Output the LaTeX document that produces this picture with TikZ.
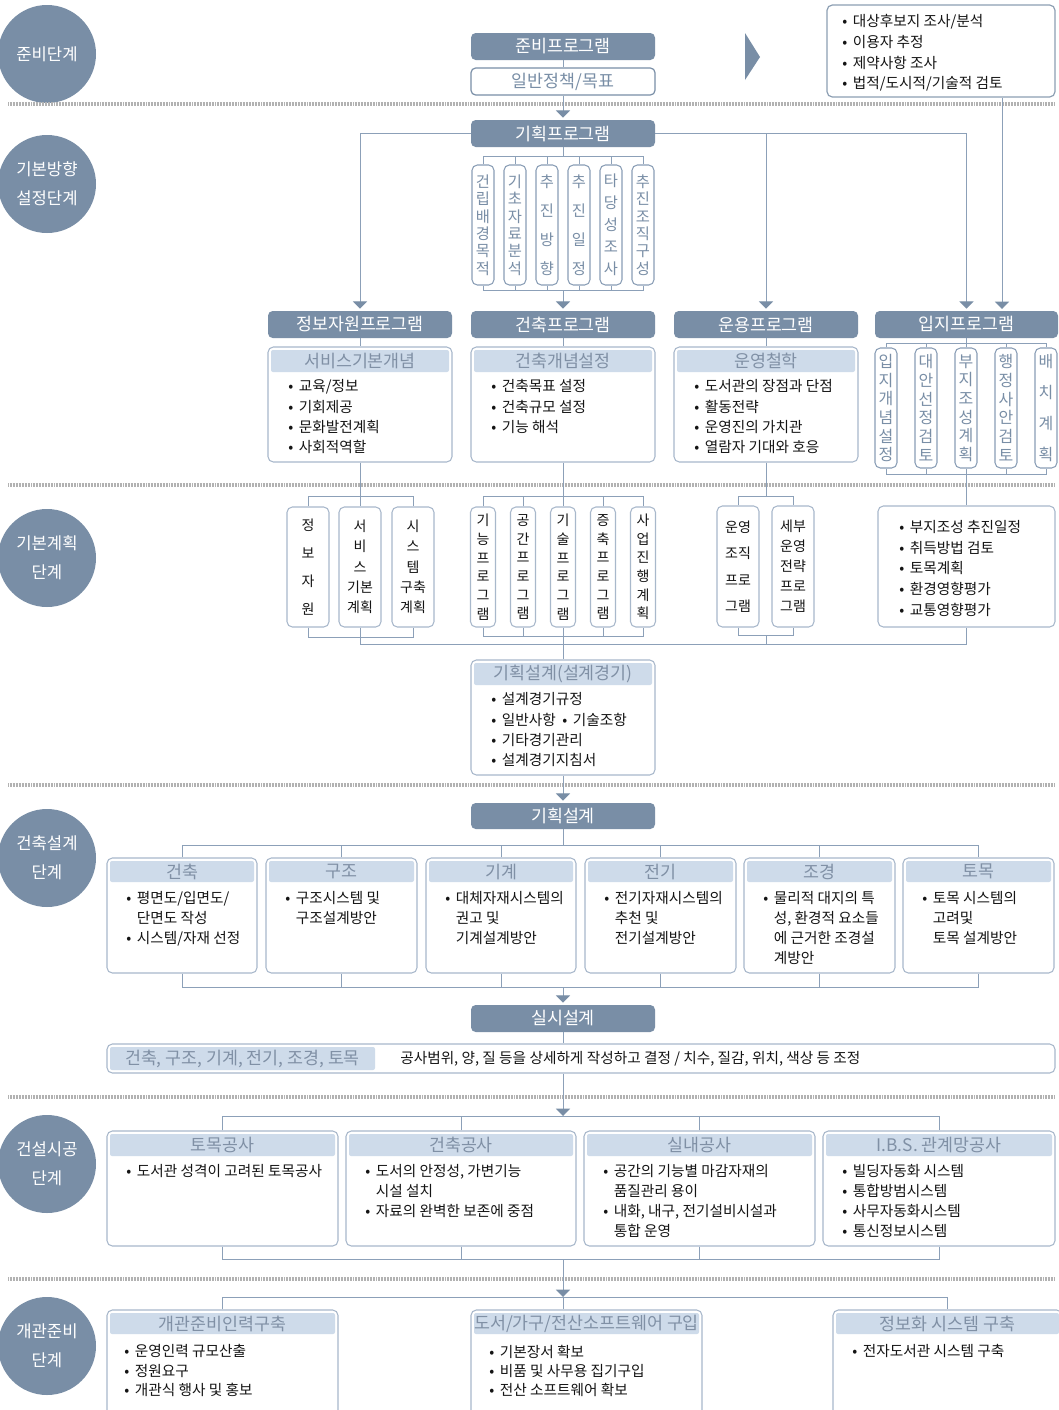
\documentclass[tikz,border=0pt]{standalone}
\usepackage{fontspec}
\setmainfont{Noto Sans CJK KR}
\usetikzlibrary{arrows.meta}
\definecolor{slate}{RGB}{121,142,166}
\definecolor{bandc}{RGB}{206,219,234}
\definecolor{bandtxt}{RGB}{128,144,165}
\definecolor{edgec}{RGB}{168,184,203}
\definecolor{tileedge}{RGB}{138,158,182}
\definecolor{linec}{RGB}{140,160,184}
\definecolor{sepc}{RGB}{178,178,178}
\definecolor{ink}{RGB}{20,20,20}
\newcommand\bl{\makebox[0.72em][l]{•}}
\newcommand\cn{\hspace*{0.72em}}
\begin{document}
\begin{tikzpicture}[x=0.75pt,y=-0.75pt,
  spanbox/.style n args={4}{at={({(#1+#3)/2},{(#2+#4)/2})}, anchor=center,
     minimum width={(#3-#1)*0.75pt}, minimum height={(#4-#2)*0.75pt}},
  hdr/.style={fill=slate, rounded corners=3.5pt, text=white, inner sep=0pt, font=\fontsize{13}{15}\selectfont},
  genbox/.style={draw=slate, line width=0.9pt, fill=white, rounded corners=3.5pt, text=slate, inner sep=0pt, font=\fontsize{13}{15}\selectfont},
  card/.style={draw=edgec, line width=0.8pt, fill=white, rounded corners=4pt, inner sep=0pt},
  band/.style={fill=bandc, rounded corners=1.5pt, text=bandtxt, inner sep=0pt, font=\fontsize{13}{15}\selectfont},
  blist/.style={anchor=north west, align=left, inner sep=0pt, text=ink, font=\fontsize{11}{#1}\selectfont},
  blist/.default=15.2pt,
  vtile/.style={draw=tileedge, line width=0.8pt, fill=white, rounded corners=4pt, inner sep=0pt, align=center, text=slate, font=\fontsize{11.5}{#1}\selectfont},
  stile/.style={draw=tileedge, line width=0.8pt, fill=white, rounded corners=4pt, inner sep=0pt, align=center, text=slate, font=\fontsize{12}{#1}\selectfont},
  ktile/.style={draw=edgec, line width=0.8pt, fill=white, rounded corners=4pt, inner sep=0pt, align=center, text=ink, font=\fontsize{10.5}{#1}\selectfont},
  stage/.style={circle, fill=slate, text=white, minimum size=73.5pt, inner sep=0pt, align=center, font=\fontsize{12.5}{21.75}\selectfont},
  conn/.style={draw=linec, line width=0.75pt},
  arr/.style={conn, -{Triangle[width=10.5pt,length=5.5pt,color=slate]}, shorten >=1.5pt},
  sep/.style={draw=sepc, line width=2.4pt, dash pattern=on 0.55pt off 0.6pt}
]
\useasboundingbox (0,0) rectangle (1058,1410);
\fill[white] (0,0) rectangle (1058,1410);

% ---------- stage circles ----------
\node[stage] (st1) at (47,54) {준비단계};
\node[stage] (st2) at (47,184) {기본방향\\설정단계};
\node[stage] (st3) at (47,558) {기본계획\\단계};
\node[stage] (st4) at (47,858) {건축설계\\단계};
\node[stage] (st5) at (47,1164) {건설시공\\단계};
\node[stage] (st6) at (47,1346) {개관준비\\단계};

% ---------- separators ----------
\foreach \yy in {104,485,785,1097,1279}
  \draw[sep] (8,\yy) -- (1055,\yy);

% ---------- preparation ----------
\node[hdr, spanbox={471}{33}{655}{60}] (hPrep) {준비프로그램};
\node[genbox, spanbox={471}{68}{655}{95}] (gGen) {일반정책/목표};
\fill[slate] (745,33) -- (760,57) -- (745,80) -- cycle;
\node[card, draw=slate!85, line width=0.9pt, spanbox={827}{5}{1055}{97}] (rBox) {};
\node[blist=15.4pt] (rTxt) at (842,14.5) {\bl 대상후보지 조사/분석\\\bl 이용자 추정\\\bl 제약사항 조사\\\bl 법적/도시적/기술적 검토};

\node[hdr, spanbox={471}{120}{655}{147}] (hPlan) {기획프로그램};
\draw[conn] (hPrep.south) -- (gGen.north);
\draw[arr] (gGen.south) -- (hPlan.north);

% planning items
\node[vtile=13.1pt, spanbox={472}{165}{494}{285}] (t1) {건\\립\\배\\경\\목\\적};
\node[vtile=13.1pt, spanbox={504}{165}{526}{285}] (t2) {기\\초\\자\\료\\분\\석};
\node[vtile=21.75pt, spanbox={536}{165}{558}{285}] (t3) {추\\진\\방\\향};
\node[vtile=21.75pt, spanbox={568}{165}{590}{285}] (t4) {추\\진\\일\\정};
\node[vtile=16.5pt, spanbox={600}{165}{622}{285}] (t5) {타\\당\\성\\조\\사};
\node[vtile=13.1pt, spanbox={632}{165}{654}{285}] (t6) {추\\진\\조\\직\\구\\성};

% program headers
\node[hdr, spanbox={268}{311}{452}{338}] (hInfo) {정보자원프로그램};
\node[hdr, spanbox={471}{311}{655}{338}] (hArch) {건축프로그램};
\node[hdr, spanbox={674}{311}{858}{338}] (hOper) {운용프로그램};
\node[hdr, spanbox={875}{311}{1058}{338}] (hSite) {입지프로그램};
\coordinate (siteIn) at (1002,311);

\draw[arr] (hPlan.west) -| (hInfo.north);
\draw[arr] (hPlan.east) -| (hSite.north);
\draw[arr] (hPlan.east -| hOper.north) -- (hOper.north);
\draw[arr] (rBox.south -| siteIn) -- (siteIn);

\coordinate (pTop) at (563,156);
\coordinate (pBot) at (563,290);
\draw[conn] (hPlan.south) -- (pTop);
\draw[conn] (t1.north) -- (t1.north |- pTop) -- (t6.north |- pTop) -- (t6.north);
\draw[conn] (t1.south) -- (t1.south |- pBot) -- (t6.south |- pBot) -- (t6.south);
\foreach \k in {2,...,5} {
  \draw[conn] (t\k.north) -- (t\k.north |- pTop);
  \draw[conn] (t\k.south) -- (t\k.south |- pBot);
}
\draw[arr] (pBot) -- (hArch.north);

% concept boxes
\node[card, spanbox={268}{347}{452}{462}] (bInfo) {};
\node[band, spanbox={271}{350}{449}{372}] (bInfoB) {서비스기본개념};
\node[blist] (bInfoT) at (288,379.5) {\bl 교육/정보\\\bl 기회제공\\\bl 문화발전계획\\\bl 사회적역할};
\node[card, spanbox={471}{347}{655}{462}] (bArch) {};
\node[band, spanbox={474}{350}{652}{372}] (bArchB) {건축개념설정};
\node[blist] (bArchT) at (491,379.5) {\bl 건축목표 설정\\\bl 건축규모 설정\\\bl 기능 해석};
\node[card, spanbox={674}{347}{858}{462}] (bOper) {};
\node[band, spanbox={677}{350}{855}{372}] (bOperB) {운영철학};
\node[blist] (bOperT) at (694,379.5) {\bl 도서관의 장점과 단점\\\bl 활동전략\\\bl 운영진의 가치관\\\bl 열람자 기대와 호응};
\draw[conn] (hInfo.south) -- (bInfo.north);
\draw[conn] (hArch.south) -- (bArch.north);
\draw[conn] (hOper.south) -- (bOper.north);

% site items
\node[stile=14pt, spanbox={875}{348}{897}{468}] (s1) {입\\지\\개\\념\\설\\정};
\node[stile=14pt, spanbox={915}{348}{937}{468}] (s2) {대\\안\\선\\정\\검\\토};
\node[stile=14pt, spanbox={955}{348}{977}{468}] (s3) {부\\지\\조\\성\\계\\획};
\node[stile=14pt, spanbox={995}{348}{1017}{468}] (s4) {행\\정\\사\\안\\검\\토};
\node[stile=23.25pt, spanbox={1035}{348}{1057}{468}] (s5) {배\\치\\계\\획};
\coordinate (sTop) at (967,343);
\coordinate (sBot) at (967,474);
\draw[conn] (hSite.south) -- (hSite.south |- sTop);
\draw[conn] (s1.north) -- (s1.north |- sTop) -- (s5.north |- sTop) -- (s5.north);
\draw[conn] (s1.south) -- (s1.south |- sBot) -- (s5.south |- sBot) -- (s5.south);
\foreach \k in {2,...,4} {
  \draw[conn] (s\k.north) -- (s\k.north |- sTop);
  \draw[conn] (s\k.south) -- (s\k.south |- sBot);
}

% ---------- basic plan ----------
\node[ktile=21pt, spanbox={287}{507}{329}{627}] (a1) {정\\보\\자\\원};
\node[ktile=15.2pt, spanbox={339}{507}{381}{627}] (a2) {서\\비\\스\\기본\\계획};
\node[ktile=15.2pt, spanbox={392}{507}{434}{627}] (a3) {시\\스\\템\\구축\\계획};
\node[ktile=14pt, spanbox={470.5}{507}{495.5}{627}] (b1) {기\\능\\프\\로\\그\\램};
\node[ktile=14pt, spanbox={510.5}{507}{535.5}{627}] (b2) {공\\간\\프\\로\\그\\램};
\node[ktile=14pt, spanbox={550.5}{507}{575.5}{627}] (b3) {기\\술\\프\\로\\그\\램};
\node[ktile=14pt, spanbox={590.5}{507}{615.5}{627}] (b4) {증\\축\\프\\로\\그\\램};
\node[ktile=14pt, spanbox={630.5}{507}{655.5}{627}] (b5) {사\\업\\진\\행\\계\\획};
\node[ktile=19.9pt, spanbox={717}{506}{759}{627}] (c1) {운영\\조직\\프로\\그램};
\node[ktile=15pt, spanbox={772}{506}{814}{627}] (c2) {세부\\운영\\전략\\프로\\그램};
\node[card, spanbox={878}{506}{1055}{627}] (dBox) {};
\node[blist=15.4pt] (dTxt) at (899,520.5) {\bl 부지조성 추진일정\\\bl 취득방법 검토\\\bl 토목계획\\\bl 환경영향평가\\\bl 교통영향평가};

\coordinate (aTop) at (360,496);
\coordinate (aBot) at (360,637);
\draw[conn] (bInfo.south) -- (a2.north);
\draw[conn] (a1.north) -- (a1.north |- aTop) -- (a3.north |- aTop) -- (a3.north);
\draw[conn] (a1.south) -- (a1.south |- aBot) -- (a3.south |- aBot) -- (a3.south);

\coordinate (bTop) at (563,496);
\coordinate (bBot) at (563,636);
\draw[conn] (bArch.south) -- (b3.north);
\draw[conn] (b1.north) -- (b1.north |- bTop) -- (b5.north |- bTop) -- (b5.north);
\draw[conn] (b1.south) -- (b1.south |- bBot) -- (b5.south |- bBot) -- (b5.south);
\foreach \k in {2,4} {
  \draw[conn] (b\k.north) -- (b\k.north |- bTop);
  \draw[conn] (b\k.south) -- (b\k.south |- bBot);
}

\coordinate (cTop) at (766,496);
\coordinate (cBot) at (766,635);
\draw[conn] (bOper.south) -- (cTop);
\draw[conn] (c1.north) -- (c1.north |- cTop) -- (c2.north |- cTop) -- (c2.north);
\draw[conn] (c1.south) -- (c1.south |- cBot) -- (c2.south |- cBot) -- (c2.south);

\draw[conn] (dBox.north |- sBot) -- (dBox.north);

% joining line
\coordinate (jL) at (360,644);
\coordinate (jR) at (966.5,644);
\draw[conn] (a2.south) -- (jL) -- (jR) -- (dBox.south);
\draw[conn] (cBot) -- (cBot |- jL);

% design competition
\node[card, spanbox={471}{660}{655}{775}] (bComp) {};
\node[band, spanbox={474}{663}{652}{685}] (bCompB) {기획설계(설계경기)};
\node[blist] (bCompT) at (491,692.5) {\bl 설계경기규정\\\bl 일반사항\hspace{0.45em}\bl 기술조항\\\bl 기타경기관리\\\bl 설계경기지침서};
\draw[conn] (b3.south) -- (bComp.north);

% ---------- architectural design ----------
\node[hdr, spanbox={471}{803}{655}{829}] (hDes) {기획설계};
\draw[arr] (bComp.south) -- (hDes.north);

\node[card, spanbox={107}{858}{257}{973}] (e1) {};
\node[band, spanbox={110}{861}{254}{882}] (e1B) {건축};
\node[blist=15pt] (e1T) at (126,891.5) {\bl 평면도/입면도/\\\cn 단면도 작성\\\bl 시스템/자재 선정};
\node[card, spanbox={266}{858}{417}{973}] (e2) {};
\node[band, spanbox={269}{861}{414}{882}] (e2B) {구조};
\node[blist=15pt] (e2T) at (285,891.5) {\bl 구조시스템 및\\\cn 구조설계방안};
\node[card, spanbox={426}{858}{576}{973}] (e3) {};
\node[band, spanbox={429}{861}{573}{882}] (e3B) {기계};
\node[blist=15pt] (e3T) at (445,891.5) {\bl 대체자재시스템의\\\cn 권고 및\\\cn 기계설계방안};
\node[card, spanbox={585}{858}{736}{973}] (e4) {};
\node[band, spanbox={588}{861}{733}{882}] (e4B) {전기};
\node[blist=15pt] (e4T) at (604,891.5) {\bl 전기자재시스템의\\\cn 추천 및\\\cn 전기설계방안};
\node[card, spanbox={744}{858}{895}{973}] (e5) {};
\node[band, spanbox={747}{861}{892}{882}] (e5B) {조경};
\node[blist=15pt] (e5T) at (763,891.5) {\bl 물리적 대지의 특\\\cn 성, 환경적 요소들\\\cn 에 근거한 조경설\\\cn 계방안};
\node[card, spanbox={903}{858}{1054}{973}] (e6) {};
\node[band, spanbox={906}{861}{1051}{882}] (e6B) {토목};
\node[blist=15pt] (e6T) at (922,891.5) {\bl 토목 시스템의\\\cn 고려및\\\cn 토목 설계방안};

\coordinate (eTop) at (563,845);
\coordinate (eBot) at (563,987);
\draw[conn] (hDes.south) -- (eTop);
\draw[conn] (e1.north) -- (e1.north |- eTop) -- (e6.north |- eTop) -- (e6.north);
\draw[conn] (e1.south) -- (e1.south |- eBot) -- (e6.south |- eBot) -- (e6.south);
\foreach \k in {2,...,5} {
  \draw[conn] (e\k.north) -- (e\k.north |- eTop);
  \draw[conn] (e\k.south) -- (e\k.south |- eBot);
}

\node[hdr, spanbox={471}{1005}{655}{1032}] (hExec) {실시설계};
\draw[arr] (eBot) -- (hExec.north);

\node[card, spanbox={107}{1044}{1055}{1073}] (wBox) {};
\node[band, spanbox={110}{1047}{375}{1070}] (wBand) {건축, 구조, 기계, 전기, 조경, 토목};
\node[anchor=west, inner sep=0pt, text=ink, font=\fontsize{11}{14}\selectfont] (wTxt) at (400,1059) {공사범위, 양, 질 등을 상세하게 작성하고 결정 / 치수, 질감, 위치, 색상 등 조정};
\draw[conn] (hExec.south) -- (hExec.south |- wBox.north);

% ---------- construction ----------
\node[card, spanbox={107}{1131}{338}{1246}] (f1) {};
\node[band, spanbox={110}{1134}{335}{1156}] (f1B) {토목공사};
\node[blist=14.8pt] (f1T) at (126,1164.5) {\bl 도서관 성격이 고려된 토목공사};
\node[card, spanbox={346}{1131}{576}{1246}] (f2) {};
\node[band, spanbox={349}{1134}{573}{1156}] (f2B) {건축공사};
\node[blist=14.8pt] (f2T) at (365,1164.5) {\bl 도서의 안정성, 가변기능\\\cn 시설 설치\\\bl 자료의 완벽한 보존에 중점};
\node[card, spanbox={584}{1131}{815}{1246}] (f3) {};
\node[band, spanbox={587}{1134}{812}{1156}] (f3B) {실내공사};
\node[blist=14.8pt] (f3T) at (603,1164.5) {\bl 공간의 기능별 마감자재의\\\cn 품질관리 용이\\\bl 내화, 내구, 전기설비시설과\\\cn 통합 운영};
\node[card, spanbox={823}{1131}{1055}{1246}] (f4) {};
\node[band, spanbox={826}{1134}{1052}{1156}] (f4B) {I.B.S. 관계망공사};
\node[blist=14.8pt] (f4T) at (842,1164.5) {\bl 빌딩자동화 시스템\\\bl 통합방범시스템\\\bl 사무자동화시스템\\\bl 통신정보시스템};

\coordinate (fTop) at (563,1116);
\coordinate (fBot) at (563,1259);
\draw[arr, shorten >=0pt] (wBox.south -| fTop) -- (fTop);
\draw[conn] (f1.north) -- (f1.north |- fTop) -- (f4.north |- fTop) -- (f4.north);
\draw[conn] (f1.south) -- (f1.south |- fBot) -- (f4.south |- fBot) -- (f4.south);
\foreach \k in {2,3} {
  \draw[conn] (f\k.north) -- (f\k.north |- fTop);
  \draw[conn] (f\k.south) -- (f\k.south |- fBot);
}

% ---------- opening preparation ----------
\node[card, spanbox={107}{1310}{338}{1424}] (g1) {};
\node[band, spanbox={110}{1313}{335}{1334}] (g1B) {개관준비인력구축};
\node[blist=14.6pt] (g1T) at (124,1344.5) {\bl 운영인력 규모산출\\\bl 정원요구\\\bl 개관식 행사 및 홍보};
\node[card, spanbox={471}{1310}{702}{1424}] (g2) {};
\node[band, spanbox={474}{1313}{699}{1334}] (g2B) {도서/가구/전산소프트웨어 구입};
\node[blist=14.6pt] (g2T) at (489,1344.5) {\bl 기본장서 확보\\\bl 비품 및 사무용 집기구입\\\bl 전산 소프트웨어 확보};
\node[card, spanbox={833}{1310}{1062}{1424}] (g3) {};
\node[band, spanbox={836}{1313}{1059}{1334}] (g3B) {정보화 시스템 구축};
\node[blist=14.6pt] (g3T) at (852,1344.5) {\bl 전자도서관 시스템 구축};

\coordinate (gMid) at (563,1297);
\draw[arr, shorten >=0pt] (fBot) -- (gMid);
\draw[conn] (g1.north) -- (g1.north |- gMid) -- (g3.north |- gMid) -- (g3.north);
\draw[conn] (gMid) -- (g2.north -| gMid);
\end{tikzpicture}
\end{document}
